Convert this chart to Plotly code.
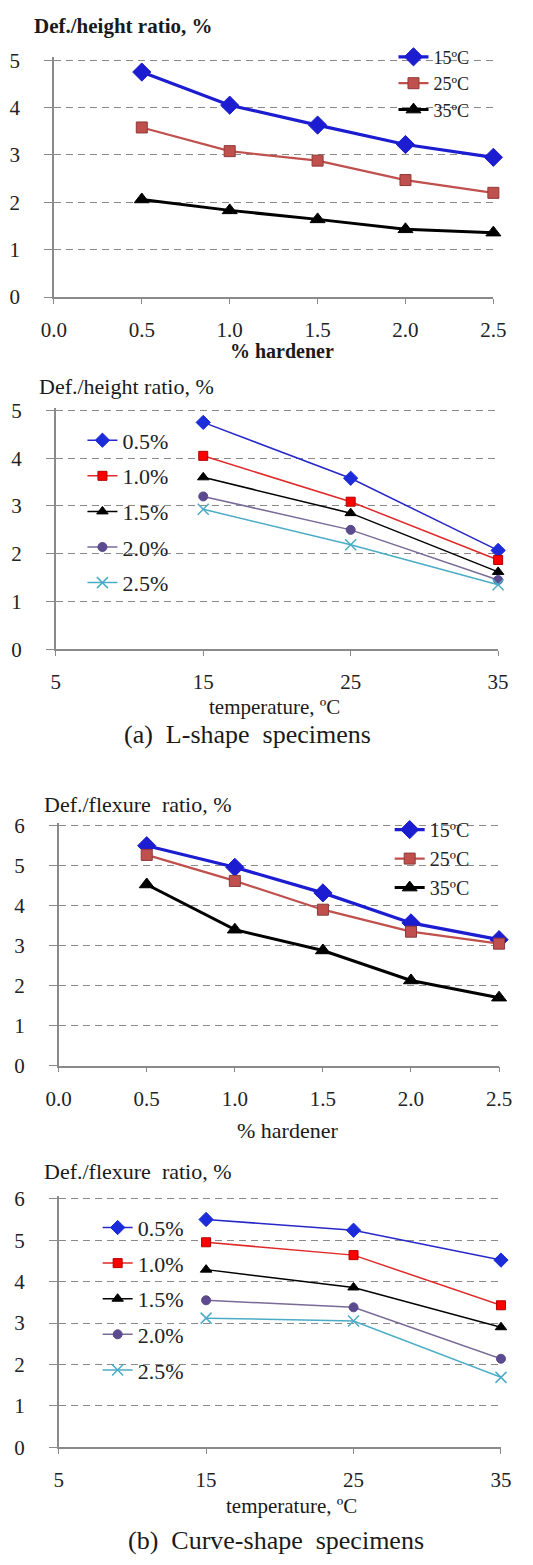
import plotly.graph_objects as go

W, H = 533, 1565
FONT = "Liberation Serif"

# ---------------- data ----------------
hardener = [0.5, 1.0, 1.5, 2.0, 2.5]
temps = [15, 25, 35]
temp_labels = ["15ºC", "25ºC", "35ºC"]
hard_labels = ["0.5%", "1.0%", "1.5%", "2.0%", "2.5%"]
hard_ticks = [0, 0.5, 1.0, 1.5, 2.0, 2.5]
hard_ticktext = ["0.0", "0.5", "1.0", "1.5", "2.0", "2.5"]
temp_ticks = [5, 15, 25, 35]

# L-shape: deformation/height ratio (%) vs hardener, per temperature
L_15 = [4.75, 4.05, 3.63, 3.22, 2.95]
L_25 = [3.58, 3.08, 2.88, 2.47, 2.20]
L_35 = [2.06, 1.83, 1.64, 1.43, 1.36]

# L-shape: vs temperature, per hardener content
L_h05 = [4.75, 3.58, 2.07]
L_h10 = [4.05, 3.09, 1.87]
L_h15 = [3.60, 2.85, 1.62]
L_h20 = [3.20, 2.50, 1.45]
L_h25 = [2.93, 2.19, 1.35]

# Curve-shape: deformation/flexure ratio (%) vs hardener, per temperature
C_15 = [5.50, 4.96, 4.32, 3.57, 3.15]
C_25 = [5.27, 4.62, 3.90, 3.35, 3.05]
C_35 = [4.53, 3.40, 2.88, 2.13, 1.70]

# Curve-shape: vs temperature, per hardener content
C_h05 = [5.50, 5.24, 4.52]
C_h10 = [4.95, 4.64, 3.43]
C_h15 = [4.29, 3.86, 2.90]
C_h20 = [3.55, 3.38, 2.14]
C_h25 = [3.12, 3.05, 1.69]


def px(x):
    return x / W


def py(y):
    return 1 - y / H


fig = go.Figure()

# thick-line style (hardener panels)
thick = [
    dict(color="#1c1cd0", width=3.2, symbol="diamond", msize=14, mfill="#1c1cd0", mline="#1c1cd0"),
    dict(color="#c0504d", width=2.2, symbol="square", msize=11, mfill="#c0504d", mline="#8c3a38"),
    dict(color="#000000", width=3.0, symbol="triangle-up", msize=13, mfill="#000000", mline="#000000"),
]
# thin-line style (temperature panels)
thin = [
    dict(color="#2828c8", width=1.5, symbol="diamond", msize=11, mfill="#1c2cd8", mline="#1c2cd8"),
    dict(color="#e02828", width=1.5, symbol="square", msize=9, mfill="#ff0000", mline="#b00000"),
    dict(color="#000000", width=1.5, symbol="triangle-up", msize=10, mfill="#000000", mline="#000000"),
    dict(color="#7a6a98", width=1.5, symbol="circle", msize=9, mfill="#5b4a8e", mline="#5b4a8e"),
    dict(color="#4bacc6", width=1.5, symbol="x-thin", msize=11, mfill="#4bacc6", mline="#4bacc6"),
]


def add_series(x, ys, names, styles, xa, ya, legend, group):
    for i, (y, n, s) in enumerate(zip(ys, names, styles)):
        fig.add_trace(go.Scatter(
            x=x, y=y, name=n, mode="lines+markers",
            xaxis=xa, yaxis=ya, legend=legend,
            legendgroup=f"{group}{i}",
            cliponaxis=False,
            line=dict(color=s["color"], width=s["width"]),
            marker=dict(symbol=s["symbol"], size=s["msize"], color=s["mfill"],
                        line=dict(color=s["mline"], width=1.5 if s["symbol"] == "x-thin" else 1)),
        ))


add_series(hardener, [L_15, L_25, L_35], temp_labels, thick, "x", "y", "legend", "a")
add_series(temps, [L_h05, L_h10, L_h15, L_h20, L_h25], hard_labels, thin, "x2", "y2", "legend2", "b")
add_series(hardener, [C_15, C_25, C_35], temp_labels, thick, "x3", "y3", "legend3", "c")
add_series(temps, [C_h05, C_h10, C_h15, C_h20, C_h25], hard_labels, thin, "x4", "y4", "legend4", "d")

tickfont = dict(family=FONT, size=21, color="#222222")
common_y = dict(showgrid=True, gridcolor="#8a8a8a", gridwidth=1, griddash="7px,5px",
                showline=True, linecolor="#8a8a8a", linewidth=1.5,
                ticks="outside", ticklen=8, tickcolor="#8a8a8a", tickwidth=1,
                tickfont=tickfont, dtick=1, tick0=0, zeroline=False, ticklabelstandoff=20,
                fixedrange=True)
common_x = dict(showgrid=False, showline=True, linecolor="#8a8a8a", linewidth=1.5,
                ticks="outside", ticklen=5, tickcolor="#8a8a8a", tickwidth=1,
                tickfont=tickfont, zeroline=False, ticklabelstandoff=8, fixedrange=True)

fig.update_layout(
    width=W, height=H,
    margin=dict(l=0, r=0, t=0, b=0),
    paper_bgcolor="white", plot_bgcolor="white",
    font=dict(family=FONT, color="#222222"),
    xaxis=dict(domain=[px(43), px(505)], range=[0, 2.5], tickvals=hard_ticks,
               ticktext=hard_ticktext, anchor="y", **common_x),
    yaxis=dict(domain=[py(292), py(49)], range=[0, 5.06], anchor="x", **common_y),
    xaxis2=dict(domain=[px(45), px(510)], range=[5, 35], tickvals=temp_ticks, anchor="y2", **common_x),
    yaxis2=dict(domain=[py(649), py(404)], range=[0, 5.06], anchor="x2", **common_y),
    xaxis3=dict(domain=[px(48), px(511)], range=[0, 2.5], tickvals=hard_ticks,
                ticktext=hard_ticktext, anchor="y3", **common_x),
    yaxis3=dict(domain=[py(1071), py(825)], range=[0, 6.07], anchor="x3", **common_y),
    xaxis4=dict(domain=[px(48), px(513)], range=[5, 35], tickvals=temp_ticks, anchor="y4", **common_x),
    yaxis4=dict(domain=[py(1458), py(1203)], range=[0, 6.07], anchor="x4", **common_y),
    showlegend=True,
    legend=dict(x=px(400), y=py(30), xanchor="left", yanchor="top", bgcolor="rgba(0,0,0,0)",
                font=dict(family=FONT, size=18, color="#222222"), tracegroupgap=0),
    legend2=dict(x=px(73), y=py(416), xanchor="left", yanchor="top", bgcolor="rgba(0,0,0,0)",
                 font=dict(family=FONT, size=22, color="#222222"), tracegroupgap=4),
    legend3=dict(x=px(396), y=py(812), xanchor="left", yanchor="top", bgcolor="rgba(0,0,0,0)",
                 font=dict(family=FONT, size=20, color="#222222"), tracegroupgap=0),
    legend4=dict(x=px(89), y=py(1214), xanchor="left", yanchor="top", bgcolor="rgba(0,0,0,0)",
                 font=dict(family=FONT, size=22, color="#222222"), tracegroupgap=4),
)


def ann(text, x, y, size, bold=False, xanchor="left"):
    fig.add_annotation(
        text=f"<b>{text}</b>" if bold else text,
        x=px(x), y=py(y), xref="paper", yref="paper",
        xanchor=xanchor, yanchor="middle", showarrow=False,
        font=dict(family=FONT, size=size, color="#1a1a1a"),
    )


NB = "\u00a0"
ann("Def./height ratio, %", 20, 17, 21, bold=True)
ann("% hardener", 283, 347, 20, bold=True, xanchor="center")
ann("Def./height ratio, %", 25, 383, 22)
ann("temperature, ºC", 275, 707, 21, xanchor="center")
ann(f"(a){NB}{NB}L-shape{NB}{NB}specimens", 247, 735, 26, xanchor="center")
ann(f"Def./flexure{NB}{NB}ratio, %", 30, 806, 22)
ann("% hardener", 289, 1137, 22, xanchor="center")
ann(f"Def./flexure{NB}{NB}ratio, %", 30, 1178, 22)
ann("temperature, ºC", 293, 1517, 21, xanchor="center")
ann(f"(b){NB}{NB}Curve-shape{NB}{NB}specimens", 277, 1552, 26, xanchor="center")

fig.write_html("out.html")
